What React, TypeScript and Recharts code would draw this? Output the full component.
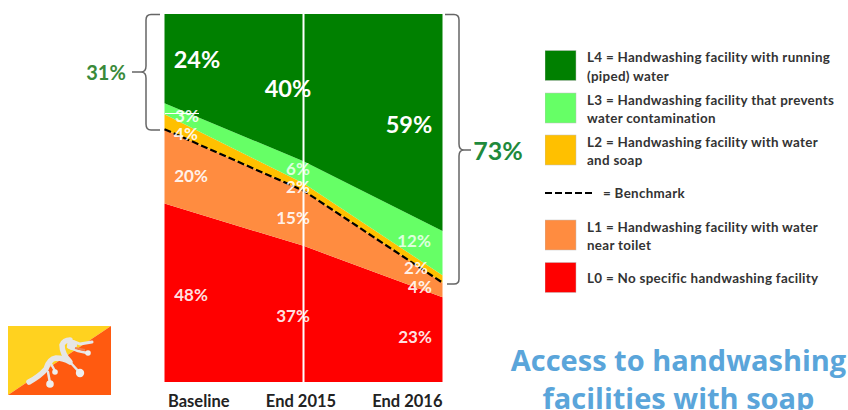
import React from 'react';
import { ComposedChart, Area, Line, XAxis, YAxis, ReferenceLine, LabelList, Legend } from 'recharts';

const periods = ['Baseline', 'End 2015', 'End 2016'];
const l0Values = [48, 37, 23];
const l1Values = [20, 15, 4];
const l2Values = [4, 2, 2];
const l3Values = [3, 6, 12];
const l4Values = [24, 40, 59];

// Bands are normalised to the full column, so the benchmark uses the same share.
const rows = periods.map((period, i) => {
  const total = l0Values[i] + l1Values[i] + l2Values[i] + l3Values[i] + l4Values[i];
  return {
    period,
    l0: l0Values[i],
    l1: l1Values[i],
    l2: l2Values[i],
    l3: l3Values[i],
    l4: l4Values[i],
    benchmark: (l0Values[i] + l1Values[i]) / total,
  };
});

const legendEntries = [
  { kind: 'box', color: '#008000', lines: ['L4 = Handwashing facility with running', '(piped) water'], top: 50.5 },
  { kind: 'box', color: '#66FF66', lines: ['L3 = Handwashing facility that prevents', 'water contamination'], top: 93 },
  { kind: 'box', color: '#FFC000', lines: ['L2 = Handwashing facility with water', 'and soap'], top: 135 },
  { kind: 'dash', color: '#000000', lines: ['= Benchmark'], top: 178 },
  { kind: 'box', color: '#FF8C40', lines: ['L1 = Handwashing facility with water', 'near toilet'], top: 220 },
  { kind: 'box', color: '#FF0000', lines: ['L0 = No specific handwashing facility'], top: 262.5 },
];

const FONT = 'Lato, Carlito, sans-serif';
const LABEL_WHITE = '#FFFFFF';

type Placement = { dx: number; dy: number; size: number; opacity?: number };

const bandLabel = (values: number[], places: Placement[]) => (props: any) => {
  const { x, y, index } = props;
  const p = places[index];
  return (
    <text
      x={x + p.dx}
      y={y + p.dy}
      fill={LABEL_WHITE}
      fillOpacity={p.opacity ?? 0.9}
      fontFamily={FONT}
      fontWeight={700}
      fontSize={p.size}
      textAnchor="middle"
      dominantBaseline="central"
    >
      {`${values[index]}%`}
    </text>
  );
};

const l4Places = [
  { dx: 32.5, dy: 45, size: 23.5, opacity: 1 },
  { dx: -15.5, dy: 74, size: 23.5, opacity: 1 },
  { dx: -33.5, dy: 110, size: 23.5, opacity: 1 },
];
const l3Places = [
  { dx: 22.5, dy: 12, size: 17 },
  { dx: -5.5, dy: 7, size: 17, opacity: 0.8 },
  { dx: -28.5, dy: 9, size: 17, opacity: 0.8 },
];
const l2Places = [
  { dx: 21.5, dy: 19.6, size: 17 },
  { dx: -5.5, dy: 3.7, size: 17 },
  { dx: -26.5, dy: -8, size: 17 },
];
const l1Places = [
  { dx: 26.5, dy: 46, size: 17 },
  { dx: -10.5, dy: 27, size: 17 },
  { dx: -22.5, dy: 3.4, size: 17 },
];
const l0Places = [
  { dx: 26.5, dy: 91, size: 17 },
  { dx: -10.5, dy: 70, size: 17 },
  { dx: -27.5, dy: 39.6, size: 17 },
];

const PeriodTick = (props: any) => {
  const { x, y, payload, index } = props;
  const anchors = ['start', 'middle', 'end'];
  const nudge = [3.5, -2.5, 0];
  return (
    <text
      x={x + nudge[index]}
      y={y + 11}
      fontFamily={FONT}
      fontWeight={700}
      fontSize={16.5}
      fill="#222222"
      textAnchor={anchors[index] as any}
      dominantBaseline="central"
    >
      {payload.value}
    </text>
  );
};

const KeyPanel = () => (
  <svg width={300} height={260} style={{ display: 'block' }}>
    {legendEntries.map((entry) => {
      const top = entry.top - 45;
      return (
        <g key={entry.lines[0]}>
          {entry.kind === 'box' ? (
            <rect x={0} y={top} width={31} height={30} fill={entry.color} stroke="#BFBFBF" strokeWidth={0.5} />
          ) : (
            <line x1={0} x2={47} y1={top + 15} y2={top + 15} stroke={entry.color} strokeWidth={2} strokeDasharray="7 3" />
          )}
          {entry.lines.map((line, i) => {
            const single = entry.lines.length === 1;
            return (
              <text
                key={line}
                x={entry.kind === 'dash' ? 58 : 42}
                y={single ? top + 15 : top + 6.5 + i * 18.5}
                fontFamily={FONT}
                fontWeight={700}
                fontSize={13.4}
                letterSpacing={0.3}
                fill="#333333"
                dominantBaseline="central"
              >
                {line}
              </text>
            );
          })}
        </g>
      );
    })}
  </svg>
);

export default function App() {
  return (
    <div style={{ position: 'absolute', left: 0, top: 0, width: 848, height: 410, overflow: 'hidden', background: '#FFFFFF' }}>
      <ComposedChart
        width={848}
        height={410}
        data={rows}
        stackOffset="expand"
        margin={{ top: 14, right: 405.5, bottom: 0, left: 164.5 }}
      >
        <XAxis
          dataKey="period"
          scale="point"
          padding={{ left: 0, right: 0 }}
          axisLine={false}
          tickLine={false}
          height={28}
          interval={0}
          tick={<PeriodTick />}
        />
        <YAxis hide domain={[0, 1]} />
        <Area dataKey="l0" name="L0" stackId="levels" type="linear" fill="#FF0000" fillOpacity={1} stroke="none" isAnimationActive={false}>
          <LabelList dataKey="l0" content={bandLabel(l0Values, l0Places)} />
        </Area>
        <Area dataKey="l1" name="L1" stackId="levels" type="linear" fill="#FF8C40" fillOpacity={1} stroke="none" isAnimationActive={false}>
          <LabelList dataKey="l1" content={bandLabel(l1Values, l1Places)} />
        </Area>
        <Area dataKey="l2" name="L2" stackId="levels" type="linear" fill="#FFC000" fillOpacity={1} stroke="none" isAnimationActive={false}>
          <LabelList dataKey="l2" content={bandLabel(l2Values, l2Places)} />
        </Area>
        <Area dataKey="l3" name="L3" stackId="levels" type="linear" fill="#66FF66" fillOpacity={1} stroke="none" isAnimationActive={false}>
          <LabelList dataKey="l3" content={bandLabel(l3Values, l3Places)} />
        </Area>
        <Area dataKey="l4" name="L4" stackId="levels" type="linear" fill="#008000" fillOpacity={1} stroke="none" isAnimationActive={false}>
          <LabelList dataKey="l4" content={bandLabel(l4Values, l4Places)} />
        </Area>
        <Line dataKey="benchmark" name="Benchmark" type="linear" stroke="#000000" strokeWidth={2.2} strokeDasharray="7 3" dot={false} activeDot={false} isAnimationActive={false} />
        <ReferenceLine x="End 2015" stroke="#FFFFFF" strokeWidth={2} />
        <Legend
          layout="vertical"
          align="center"
          verticalAlign="middle"
          content={<KeyPanel />}
          wrapperStyle={{ left: 545, top: 45, width: 300, height: 260 }}
        />
      </ComposedChart>

      {/* Brackets, totals, national flag and panel heading */}
      <svg width={848} height={410} style={{ position: 'absolute', left: 0, top: 0, pointerEvents: 'none' }}>
        <line x1={165} x2={199} y1={113.5} y2={113.5} stroke="#FFFFFF" strokeWidth={1} />
        <path
          d="M160,14.5 H151 Q146,14.5 146,20 V66 Q146,72 141,72 H132 M141,72 Q146,72 146,78 V124 Q146,130 151,130 H160"
          fill="none"
          stroke="#666666"
          strokeWidth={1.5}
        />
        <text x={106} y={72} fontFamily={FONT} fontWeight={700} fontSize={20} fill="#3A8A3A" textAnchor="middle" dominantBaseline="central">
          31%
        </text>
        <path
          d="M445,14.5 H454 Q459,14.5 459,20 V144 Q459,150 464,150 H471 M464,150 Q459,150 459,156 V279 Q459,284 454,284 H447"
          fill="none"
          stroke="#666666"
          strokeWidth={1.5}
        />
        <text x={498} y={150} fontFamily={FONT} fontWeight={700} fontSize={25} fill="#1F8A3C" textAnchor="middle" dominantBaseline="central">
          73%
        </text>

        <polygon points="8,326 111,326 8,395" fill="#FFD21F" />
        <polygon points="111,326 111,395 8,395" fill="#FF5A10" />
        <g fill="none" stroke="#E6E6E6" strokeLinecap="round" strokeLinejoin="round">
          <path d="M29,382 Q40,376 46,369 Q49,359 56,358 Q64,358 70,362 Q62,354 62,345 Q64,340 70,340" strokeWidth={5.5} />
          <path d="M68,341 Q74,341 80,344 L92,342" strokeWidth={3} />
          <path d="M68,347 L78,351 L87,353" strokeWidth={2.5} />
          <path d="M48,372 L50,383 M70,362 L80,373 M50,362 L55,371" strokeWidth={2.5} />
        </g>
        <circle cx={72} cy={345} r={5} fill="#E6E6E6" />
        <path d="M75,348 L85,350" stroke="#F08050" strokeWidth={2} />
        <circle cx={50} cy={384} r={3.8} fill="#EEEEEE" />
        <circle cx={80} cy={373} r={4.2} fill="#EEEEEE" />
        <circle cx={88} cy={353} r={2.8} fill="#EEEEEE" />
        <circle cx={55} cy={372} r={2.8} fill="#EEEEEE" />

        <text x={678.5} y={359} fontFamily={'"Open Sans", sans-serif'} fontWeight={700} fontSize={29} fill="#5AA5DA" textAnchor="middle" dominantBaseline="central">
          Access to handwashing
        </text>
        <text x={678.5} y={397} fontFamily={'"Open Sans", sans-serif'} fontWeight={700} fontSize={29} fill="#5AA5DA" textAnchor="middle" dominantBaseline="central">
          facilities with soap
        </text>
      </svg>
    </div>
  );
}
